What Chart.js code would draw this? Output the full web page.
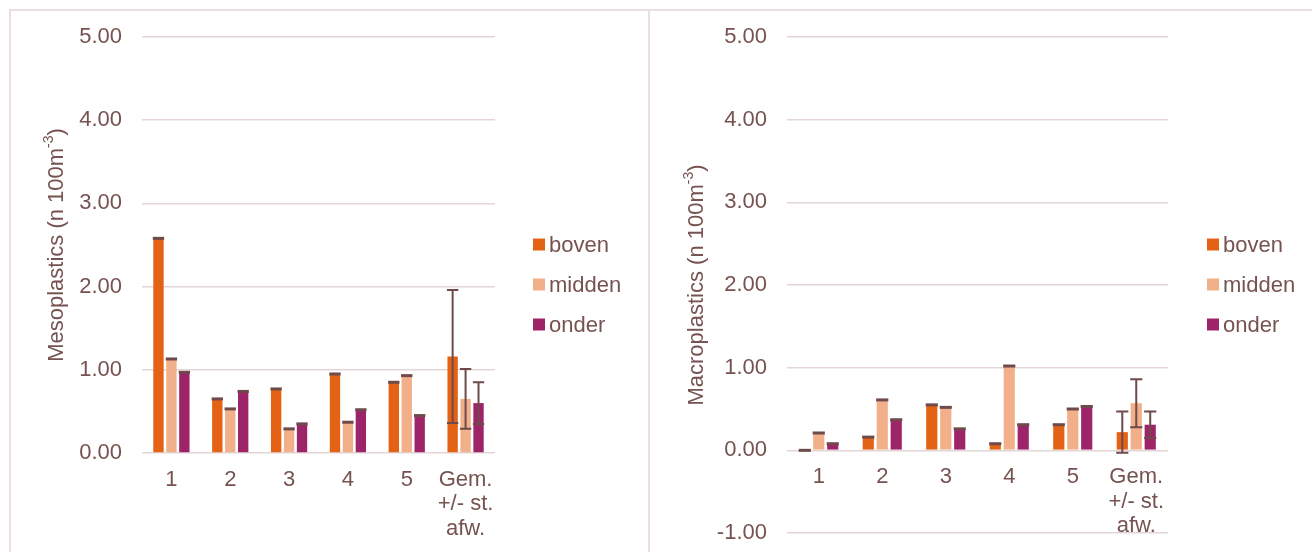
<!DOCTYPE html>
<html>
<head>
<meta charset="utf-8">
<title>Meso- en macroplastics</title>
<script src="https://cdn.jsdelivr.net/npm/chart.js@4.4.0/dist/chart.umd.min.js"></script>
<style>
    body { margin: 0; background: #fff; width: 1312px; height: 552px; overflow: hidden; position: relative; }
    .panel { position: absolute; top: 9px; height: 560px; border-top: 2px solid #eadede; border-left: 2px solid #eadede; }
    #leftPanel { left: 9px; width: 637px; }
    #rightPanel { left: 648px; width: 680px; }
    canvas { position: absolute; top: 0; left: 0; }
</style>
</head>
<body>
<div class="panel" id="leftPanel"><canvas id="mesoChart" width="636" height="541"></canvas></div>
<div class="panel" id="rightPanel"><canvas id="macroChart" width="662" height="541"></canvas></div>
<script>
// Data
const categories = ['1', '2', '3', '4', '5', ['Gem.', '+/- st.', 'afw.']];
const seriesNames = ['boven', 'midden', 'onder'];

const mesoBoven = [2.58, 0.65, 0.77, 0.95, 0.85, 1.16];
const mesoMidden = [1.13, 0.53, 0.29, 0.37, 0.93, 0.65];
const mesoOnder = [0.97, 0.74, 0.35, 0.52, 0.45, 0.60];
const mesoBovenSd = [0, 0, 0, 0, 0, 0.80];
const mesoMiddenSd = [0, 0, 0, 0, 0, 0.36];
const mesoOnderSd = [0, 0, 0, 0, 0, 0.25];

const macroBoven = [0.00, 0.16, 0.55, 0.08, 0.31, 0.22];
const macroMidden = [0.21, 0.61, 0.52, 1.02, 0.50, 0.57];
const macroOnder = [0.08, 0.37, 0.26, 0.31, 0.53, 0.31];
const macroBovenSd = [0, 0, 0, 0, 0, 0.25];
const macroMiddenSd = [0, 0, 0, 0, 0, 0.29];
const macroOnderSd = [0, 0, 0, 0, 0, 0.16];

// Styles
const colors = ['#e46214', '#f2b08a', '#9e246a'];
const textColor = '#765250';
const gridColor = '#e4d6d6';
const errorColor = '#6e4a4a';
const fontFamily = "'Liberation Sans', Arial, sans-serif";

Chart.defaults.font.family = fontFamily;
Chart.defaults.font.size = 22;
Chart.defaults.color = textColor;

// Error bars (zero sd -> only a cap on top of the bar)
const errorBarPlugin = {
    id: 'errorBars',
    afterDatasetsDraw(chart) {
        const ctx = chart.ctx;
        const yScale = chart.scales.y;
        ctx.save();
        ctx.strokeStyle = errorColor;
        chart.data.datasets.forEach((ds, i) => {
            const meta = chart.getDatasetMeta(i);
            meta.data.forEach((bar, j) => {
                const v = ds.data[j];
                const sd = ds.errors[j];
                const half = bar.width / 2 + 0.5;
                if (!sd) {
                    ctx.lineWidth = 3;
                    const y = yScale.getPixelForValue(v);
                    ctx.beginPath();
                    ctx.moveTo(bar.x - half, y);
                    ctx.lineTo(bar.x + half, y);
                    ctx.stroke();
                    return;
                }
                const yTop = yScale.getPixelForValue(v + sd);
                const yBot = yScale.getPixelForValue(v - sd);
                ctx.lineWidth = 2;
                ctx.beginPath();
                ctx.moveTo(bar.x, yTop);
                ctx.lineTo(bar.x, yBot);
                ctx.moveTo(bar.x - half, yTop);
                ctx.lineTo(bar.x + half, yTop);
                ctx.moveTo(bar.x - half, yBot);
                ctx.lineTo(bar.x + half, yBot);
                ctx.stroke();
            });
        });
        ctx.restore();
    }
};

// Y axis title with superscript and the legend on the right
const decorPlugin = {
    id: 'decor',
    afterDraw(chart, args, opts) {
        const ctx = chart.ctx;
        const area = chart.chartArea;
        ctx.save();

        // axis title
        const main = opts.title + ' (n 100m';
        const sup = '-3';
        const tail = ')';
        ctx.fillStyle = textColor;
        ctx.textBaseline = 'middle';
        ctx.textAlign = 'left';
        ctx.font = '22px ' + fontFamily;
        const w1 = ctx.measureText(main).width;
        const w3 = ctx.measureText(tail).width;
        ctx.font = '14px ' + fontFamily;
        const w2 = ctx.measureText(sup).width;
        const total = w1 + w2 + w3;
        ctx.translate(opts.titleX, (area.top + area.bottom) / 2);
        ctx.rotate(-Math.PI / 2);
        let x = -total / 2;
        ctx.font = '22px ' + fontFamily;
        ctx.fillText(main, x, 0);
        x += w1;
        ctx.font = '14px ' + fontFamily;
        ctx.fillText(sup, x, -8);
        x += w2;
        ctx.font = '22px ' + fontFamily;
        ctx.fillText(tail, x, 0);
        ctx.setTransform(1, 0, 0, 1, 0, 0);

        // legend
        const boxX = area.right + opts.legendGap;
        const midY = chart.height / 2;
        ctx.font = '22px ' + fontFamily;
        chart.data.datasets.forEach((ds, i) => {
            const y = midY - 37 + i * 40;
            ctx.fillStyle = ds.backgroundColor;
            ctx.fillRect(boxX, y - 6, 12, 12);
            ctx.fillStyle = textColor;
            ctx.fillText(ds.label, boxX + 16, y + 1);
        });
        ctx.restore();
    }
};

function buildDatasets(values, errors) {
    return values.map((data, i) => ({
        label: seriesNames[i],
        data: data,
        errors: errors[i],
        backgroundColor: colors[i],
        borderWidth: 0,
        categoryPercentage: 0.66,
        barPercentage: 0.8
    }));
}

function createChart(canvasId, cfg) {
    const ctx = document.getElementById(canvasId).getContext('2d');
    return new Chart(ctx, {
        type: 'bar',
        data: {
            labels: categories,
            datasets: buildDatasets(cfg.values, cfg.errors)
        },
        options: {
            responsive: false,
            animation: false,
            layout: { padding: cfg.padding },
            plugins: {
                legend: { display: false },
                tooltip: { enabled: false },
                decor: { title: cfg.title, titleX: cfg.titleX, legendGap: cfg.legendGap }
            },
            scales: {
                x: {
                    position: cfg.xPosition,
                    grid: { display: false, drawTicks: false },
                    border: { display: false },
                    ticks: { padding: 15, font: { size: 22, lineHeight: 1.1 }, maxRotation: 0, autoSkip: false },
                    afterFit: cfg.xHeight ? (scale) => { scale.height = cfg.xHeight; } : undefined
                },
                y: {
                    min: cfg.min,
                    max: cfg.max,
                    // invisible tick marks give the gap between labels and plot
                    grid: { color: gridColor, lineWidth: 1.5, drawTicks: true, tickLength: 20, tickColor: 'rgba(0,0,0,0)' },
                    border: { display: false },
                    ticks: {
                        stepSize: 1,
                        padding: 0,
                        callback: (v) => v.toFixed(2)
                    },
                    afterFit: (scale) => { scale.width = cfg.yWidth; }
                }
            }
        },
        plugins: [errorBarPlugin, decorPlugin]
    });
}

// Initialize charts
document.addEventListener('DOMContentLoaded', () => {
    createChart('mesoChart', {
        title: 'Mesoplastics',
        values: [mesoBoven, mesoMidden, mesoOnder],
        errors: [mesoBovenSd, mesoMiddenSd, mesoOnderSd],
        min: 0,
        max: 5,
        padding: { top: 26, right: 152, bottom: 0, left: 0 },
        xPosition: 'bottom',
        xHeight: 99,
        yWidth: 131,
        titleX: 46,
        legendGap: 38
    });

    createChart('macroChart', {
        title: 'Macroplastics',
        values: [macroBoven, macroMidden, macroOnder],
        errors: [macroBovenSd, macroMiddenSd, macroOnderSd],
        min: -1,
        max: 5,
        padding: { top: 26, right: 144, bottom: 19, left: 0 },
        xPosition: { y: 0 },
        xHeight: 0,
        yWidth: 137,
        titleX: 47,
        legendGap: 39
    });
});
</script>
</body>
</html>
